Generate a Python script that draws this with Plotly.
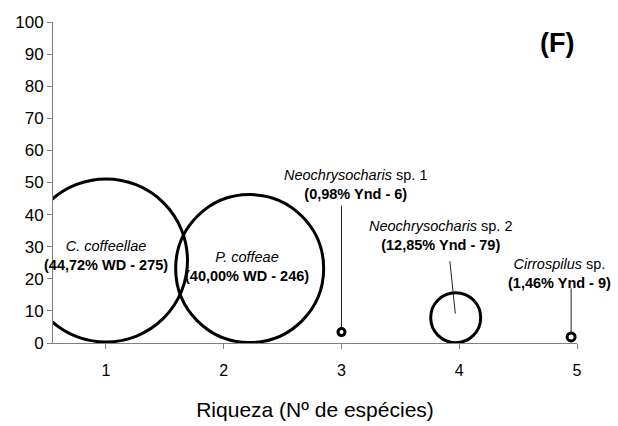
import plotly.graph_objects as go

# Data
x_riqueza = [1, 2.22, 3, 3.97, 4.95]
y_values = [25.7, 23.2, 3.4, 7.9, 1.9]
bubble_px = [163, 148, 7, 50, 8]
species = ["C. coffeellae", "P. coffeae", "Neochrysocharis", "Neochrysocharis", "Cirrospilus"]
species_suffix = ["", "", " sp. 1", " sp. 2", " sp."]
pct_labels = ["44,72% WD", "40,00% WD", "0,98% Ynd", "12,85% Ynd", "1,46% Ynd"]
counts = [275, 246, 6, 79, 9]
x_ticks = [1, 2, 3, 4, 5]
y_ticks = [0, 10, 20, 30, 40, 50, 60, 70, 80, 90, 100]

FONT = "Liberation Sans, Arial, sans-serif"

fig = go.Figure()
fig.add_trace(go.Scatter(
    x=x_riqueza, y=y_values, mode="markers",
    marker=dict(size=bubble_px, sizemode="diameter", color="rgba(255,255,255,0)",
                opacity=1, line=dict(color="#000000", width=3)),
    cliponaxis=True, hoverinfo="skip", showlegend=False,
))

# label placement (pixel offsets relative to each bubble)
label_shift = [(0, 5), (-3, 2), (14, 148), (-15, 82), (-12, 63)]
arrows = [None, None, (0, -128, 5), (-6, -58, 4), (0, -50, 5)]

annotations = []
for i in range(len(x_riqueza)):
    text = f"<i>{species[i]}</i>{species_suffix[i]}<br><b>({pct_labels[i]} - {counts[i]})</b>"
    dx, dy = label_shift[i]
    annotations.append(dict(
        x=x_riqueza[i], y=y_values[i], xref="x", yref="y", text=text,
        showarrow=False, xshift=dx, yshift=dy, xanchor="center", yanchor="middle",
        font=dict(family=FONT, size=14.5, color="#000000"), align="center",
    ))
    if arrows[i] is not None:
        ax, ay, so = arrows[i]
        annotations.append(dict(
            x=x_riqueza[i], y=y_values[i], xref="x", yref="y", text="",
            showarrow=True, arrowhead=0, arrowwidth=1, arrowcolor="#222222",
            ax=ax, ay=ay, standoff=so,
        ))

annotations.append(dict(
    x=0.962, y=0.935, xref="paper", yref="paper", text="<b>(F)</b>", showarrow=False,
    font=dict(family=FONT, size=27, color="#000000"), xanchor="center", yanchor="middle",
))

fig.update_layout(
    width=618, height=426,
    margin=dict(l=53, r=41, t=22, b=83),
    paper_bgcolor="white", plot_bgcolor="white",
    font=dict(family=FONT, color="#000000"),
    annotations=annotations,
    xaxis=dict(
        range=[0.55, 5.0], tickvals=x_ticks, ticktext=[str(v) for v in x_ticks],
        showline=True, linecolor="#808080", linewidth=1,
        ticks="outside", ticklen=5, tickcolor="#808080",
        showgrid=False, zeroline=False, ticklabelstandoff=8, automargin=False,
        tickfont=dict(size=16, family=FONT, color="#000000"),
        title=dict(text="Riqueza (Nº de espécies)", standoff=24,
                   font=dict(size=21, family=FONT, color="#000000")),
    ),
    yaxis=dict(
        range=[0, 100], tickvals=y_ticks,
        showline=True, linecolor="#808080", linewidth=1,
        ticks="outside", ticklen=5, tickcolor="#808080",
        showgrid=False, zeroline=False, automargin=False,
        tickfont=dict(size=17, family=FONT, color="#000000"),
    ),
)

fig.write_html("out.html")
